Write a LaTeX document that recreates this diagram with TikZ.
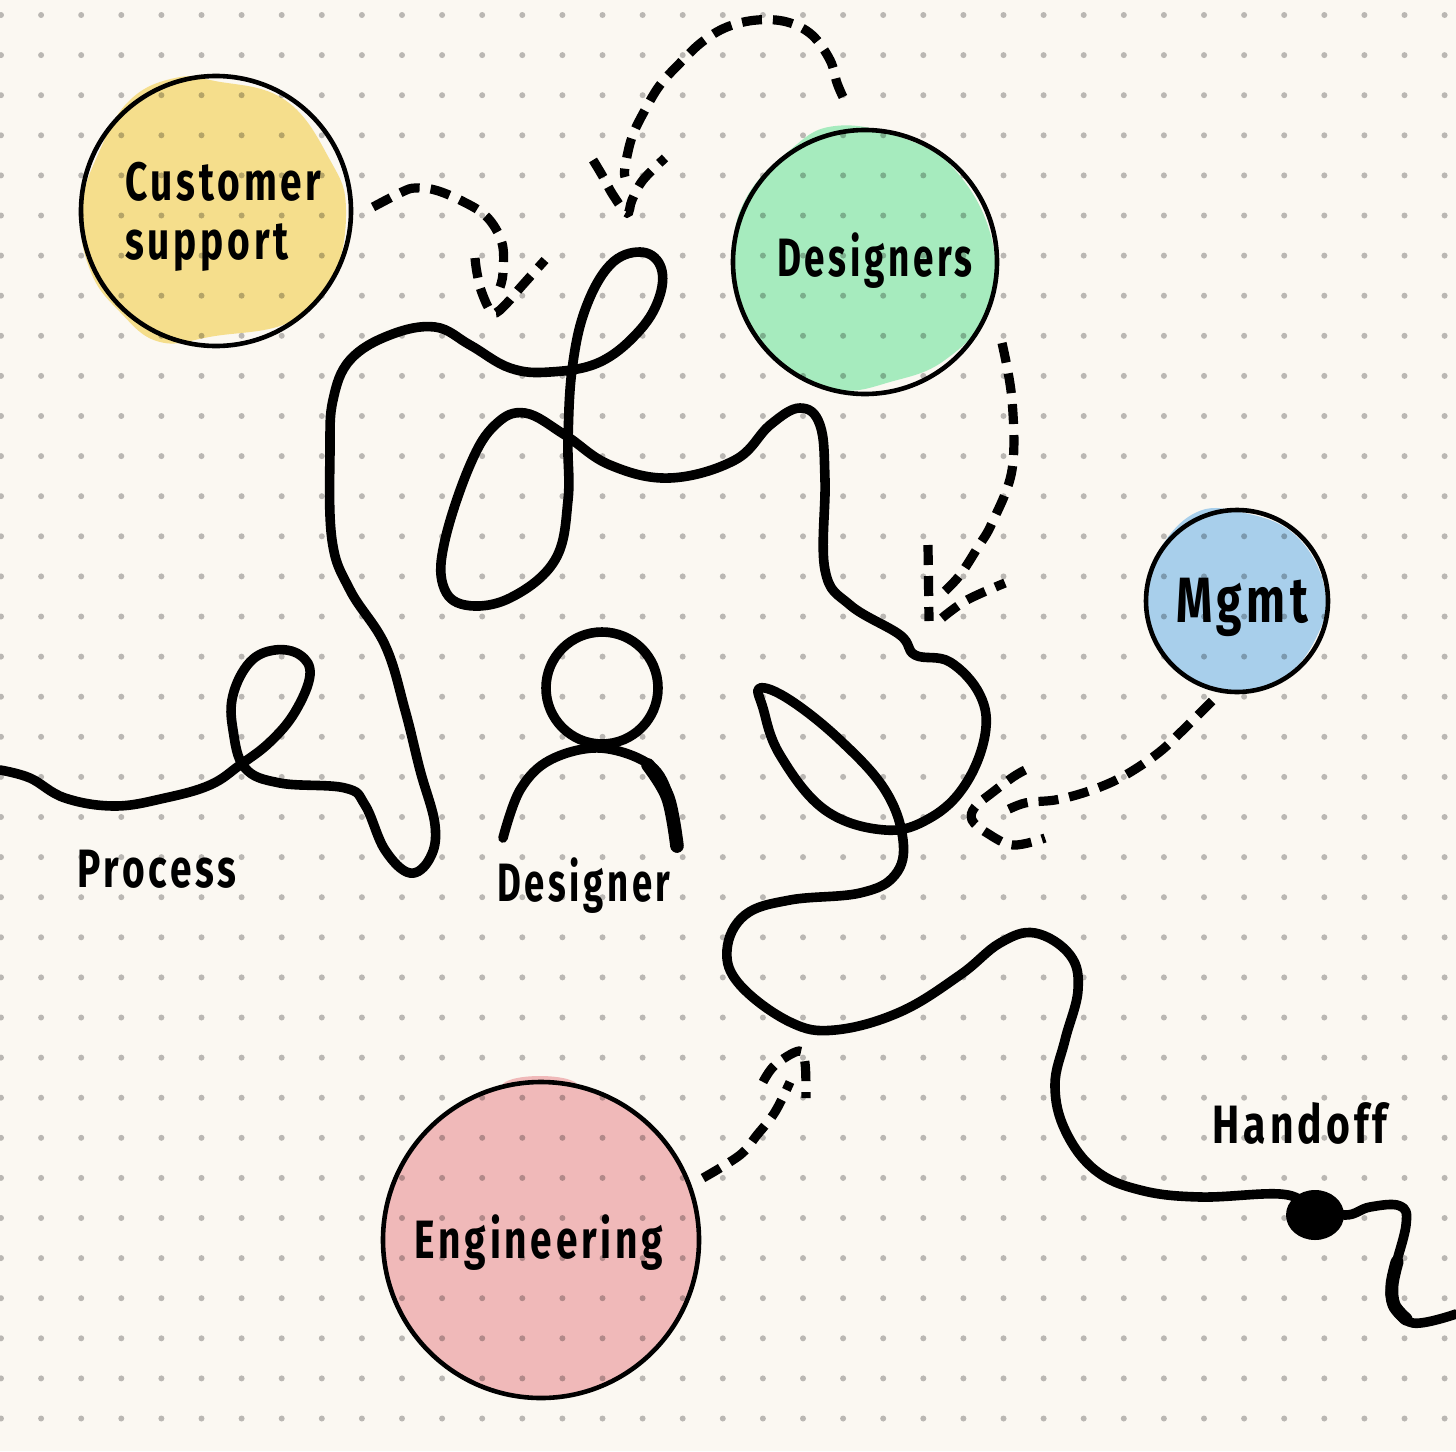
\documentclass[tikz,border=0pt]{standalone}
\usepackage{fontspec}
\newfontfamily\handfont[FakeStretch=0.72,LetterSpace=7]{Fira Sans Bold}
\definecolor{paper}{HTML}{FBF8F2}
\definecolor{cyellow}{HTML}{F5DE8C}
\definecolor{cgreen}{HTML}{A6EBBE}
\definecolor{cblue}{HTML}{A8CFEB}
\definecolor{cpink}{HTML}{F0B9B9}
\tikzset{
  x=0.5pt,y=-0.5pt,
  ring/.style={circle,draw=black,line width=2.3pt,inner sep=0pt,align=left},
  label text/.style={font=\handfont\fontsize{27}{28}\selectfont,text=black,inner sep=0pt,align=left},
  inkline/.style={draw=black,line width=4.8pt,line cap=round,line join=round},
  dashink/.style={draw=black,line width=4.6pt,line cap=butt,dash pattern=on 10pt off 5.5pt},
}
\begin{document}
\begin{tikzpicture}
\useasboundingbox (0,0) rectangle (1456,1451);
\fill[paper] (0,0) rectangle (1456,1451);
% colour washes
\fill[cyellow] plot[smooth cycle,tension=.7] coordinates {(215,81)(285,100)(330,160)(346,210)(332,280)(290,322)(215,336)(160,342)(120,312)(90,270)(81,210)(100,150)(130,100)(175,78)};
\fill[cgreen] plot[smooth cycle,tension=.7] coordinates {(835,126)(900,137)(955,170)(992,240)(988,310)(945,360)(890,382)(840,390)(790,370)(745,320)(733,260)(745,200)(790,150)};
\fill[cblue] plot[smooth cycle,tension=.7] coordinates {(1195,513)(1240,512)(1295,535)(1325,590)(1315,640)(1280,680)(1235,690)(1185,675)(1155,640)(1146,595)(1158,552)};
\fill[cpink] (541,1240) circle[radius=156];
\fill[cpink] (540,1086) ellipse[x radius=38,y radius=10];
% dot grid
\foreach \i in {0,...,36}{\foreach \j in {0,...,35}{
  \fill[black,opacity=.26] ({1+40.1*\i},{15+40.1*\j}) circle[radius=3];
}}
% circles and labels
\node[ring,minimum size=135pt] (support) at (216,211) {};
\node[ring,minimum size=132pt] (designers) at (865,262) {};
\node[ring,minimum size=91pt] (mgmt) at (1237,601) {};
\node[ring,minimum size=158pt] (engineering) at (541,1240) {};
\node[label text,anchor=west] (tsupport) at (125,217) {Customer\\[1.5pt]support};
\node[label text] (tdesigners) at (875,261) {\scalebox{.95}[1]{Designers}};
\node[label text,font=\handfont\fontsize{32}{33}\selectfont] (tmgmt) at (1242,607) {Mgmt};
\node[label text] (tengineering) at (539,1243) {Engineering};
\node[label text] (tprocess) at (157,869) {Process};
\node[label text] (tdesigner) at (584,886) {\scalebox{.94}[1]{Designer}};
\node[label text] (thandoff) at (1300,1123) {\scalebox{1.05}[1]{Handoff}};
% main line
\draw[inkline] plot[smooth,tension=.65] coordinates {(0,770)(30,778)(65,798)(115,806)(165,798)(210,785)(240,765)(270,742)(295,712)(310,675)(300,655)(275,650)(250,662)(233,695)(233,730)(245,768)(280,783)(345,788)(365,805)(385,850)(410,873)(430,858)(435,825)(420,770)(405,710)(385,645)(350,590)(332,540)(330,450)(333,400)(350,360)(390,335)(435,327)(470,345)(510,368)(550,372)(600,362)(640,330)(660,295)(660,265)(640,252)(610,265)(585,310)(572,370)(568,440)(568,500)(555,560)(510,598)(465,605)(443,585)(445,540)(470,465)(495,425)(525,413)(565,435)(610,465)(670,478)(735,460)(770,425)(800,408)(820,425)(825,480)(825,570)(850,605)(900,635)(915,655)(950,662)(980,695)(985,735)(965,785)(930,818)(885,830)(825,810)(780,755)(763,708)(760,688)(790,700)(840,740)(885,790)(903,840)(895,875)(860,893)(790,900)(745,915)(727,950)(740,985)(790,1022)(835,1030)(900,1012)(960,975)(1000,943)(1035,933)(1070,955)(1078,990)(1065,1040)(1055,1085)(1065,1130)(1095,1170)(1140,1190)(1200,1197)(1280,1194)(1310,1205)(1345,1215)(1370,1207)(1400,1206)(1406,1225)(1392,1280)(1393,1303)(1413,1323)(1456,1314)};
\draw[inkline,line width=6.5pt] plot[smooth,tension=.6] coordinates {(1397,1262)(1392,1285)(1394,1305)(1406,1319)};
\fill[black] (1315,1215) ellipse[x radius=29,y radius=25];
% person
\node[circle,draw=black,line width=4.8pt,minimum size=56pt,inner sep=0pt] (head) at (602,688) {};
\draw[inkline] plot[smooth,tension=.6] coordinates {(503,838)(520,790)(550,760)(600,748)(650,765)(670,800)(677,848)};
\draw[inkline,line width=6.8pt] plot[smooth,tension=.6] coordinates {(648,765)(668,798)(677,846)};
% dashed feedback arrows
\draw[dashink] plot[smooth,tension=.6] coordinates {(373,207)(402,192)(415,188)(435,190)(462,201)(487,217)(502,243)(503,273)(500,287)};
\draw[dashink] plot[smooth,tension=.6] coordinates {(475,258)(477,273)(482,293)(493,313)(507,303)(520,288)(545,260)};
\draw[dashink] plot[smooth,tension=.6] coordinates {(843,97)(837,83)(830,60)(812,35)(787,22)(757,20)(727,27)(702,42)(680,63)(660,85)(645,110)(632,137)(625,167)(625,177)};
\draw[dashink] plot[smooth,tension=.6] coordinates {(593,160)(602,175)(613,195)(627,213)(632,200)(643,180)(665,158)};
\draw[dashink] plot[smooth,tension=.6] coordinates {(1002,343)(1012,400)(1012,470)(992,523)(978,547)(960,575)(943,593)};
\draw[dashink] (928,545) -- (929,621);
\draw[dashink] plot[smooth,tension=.6] coordinates {(942,618)(967,600)(1005,583)};
\draw[dashink] plot[smooth,tension=.6] coordinates {(1212,701)(1200,713)(1183,730)(1162,750)(1137,768)(1112,782)(1083,793)(1055,800)(1025,803)(1003,812)};
\draw[dashink] plot[smooth,tension=.6] coordinates {(1025,770)(1013,777)(993,792)(975,807)(972,820)(987,833)(1013,845)(1045,838)};
\draw[dashink] plot[smooth,tension=.6] coordinates {(703,1178)(740,1155)(757,1135)(775,1112)(790,1082)};
\draw[dashink] plot[smooth,tension=.6] coordinates {(763,1082)(775,1065)(799,1051)(805,1063)(806,1098)};
\end{tikzpicture}
\end{document}
